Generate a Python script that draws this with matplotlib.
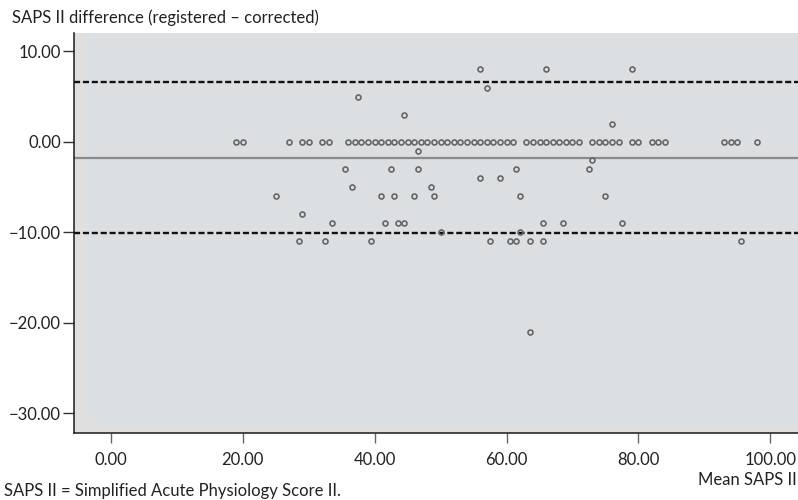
import matplotlib
matplotlib.use("Agg")
import matplotlib.pyplot as plt
from matplotlib.patches import Rectangle

plt.rcParams['font.family'] = ['Lato', 'DejaVu Sans']
plt.rcParams['lines.scale_dashes'] = False

# mean SAPS II of cases with no difference between registered and corrected
zero_mean = [19, 20, 27, 29, 30, 32, 33,
             36, 37, 38, 39, 40, 41, 42, 43, 44, 45, 46, 47, 48, 49, 50,
             51, 52, 53, 54, 55, 56, 57, 58, 59, 60, 61,
             63, 64, 65, 66, 67, 68, 69, 70, 71,
             73, 74, 75, 76, 77, 79, 80, 82, 83, 84, 93, 94, 95, 98]

# cases with a difference
diff_mean = [37.5, 44.5, 56, 66, 57, 79, 76,
             46.5, 73,
             35.5, 42.5, 46.5, 61.5, 72.5,
             56, 59,
             36.5, 48.5,
             25, 41, 43, 46, 49, 62, 75,
             29,
             33.5, 41.5, 43.5, 44.5, 65.5, 68.5, 77.5,
             50, 62,
             28.5, 32.5, 39.5, 57.5, 60.5, 61.5, 63.5, 65.5, 95.5,
             63.5]
diff_value = [5, 3, 8, 8, 6, 8, 2,
              -1, -2,
              -3, -3, -3, -3, -3,
              -4, -4,
              -5, -5,
              -6, -6, -6, -6, -6, -6, -6,
              -8,
              -9, -9, -9, -9, -9, -9, -9,
              -10, -10,
              -11, -11, -11, -11, -11, -11, -11, -11, -11,
              -21]

mean_diff = -1.74
upper_loa = 6.65
lower_loa = -10.12

xticks = [0, 20, 40, 60, 80, 100]
xtick_labels = ["0.00", "20.00", "40.00", "60.00", "80.00", "100.00"]
yticks = [-30, -20, -10, 0, 10]
ytick_labels = ["\u221230.00", "\u221220.00", "\u221210.00", "0.00", "10.00"]

fig = plt.figure(figsize=(7.98, 5.0), dpi=100)
ax = fig.add_axes([0.0927, 0.1334, 0.9073, 0.8])
ax.set_facecolor('#dcdfe2')

# faint lighter strips along the frame, as in the original graphic
ax.add_patch(Rectangle((0, 0), 0.022, 1, transform=ax.transAxes,
                       facecolor='#e0dfe0', edgecolor='none', zorder=0.5))
ax.add_patch(Rectangle((0, 0), 1, 0.025, transform=ax.transAxes,
                       facecolor='#e0dfdf', edgecolor='none', zorder=0.5))

ax.axhline(mean_diff, color='#8a8a8a', lw=1.6, zorder=2)
ax.axhline(upper_loa, color='#111111', lw=1.7, linestyle=(0, (4.4, 2.0)), zorder=2)
ax.axhline(lower_loa, color='#111111', lw=1.7, linestyle=(0, (4.4, 2.0)), zorder=2)

ax.plot(zero_mean, [0] * len(zero_mean), 'o', ms=3.6, mfc='none',
        mec='#666666', mew=1.2, zorder=3)
ax.plot(diff_mean, diff_value, 'o', ms=3.6, mfc='none',
        mec='#666666', mew=1.2, zorder=3)

ax.set_xlim(-5.6, 104.2)
ax.set_ylim(-32.2, 12.0)

ax.set_xticks(xticks)
ax.set_xticklabels(xtick_labels)
ax.set_yticks(yticks)
ax.set_yticklabels(ytick_labels)

for s in ['top', 'right']:
    ax.spines[s].set_visible(False)
for s in ['left', 'bottom']:
    ax.spines[s].set_color('#1a1a1a')
    ax.spines[s].set_linewidth(1.1)

ax.tick_params(axis='x', length=7.5, width=1.0, color='#666666',
               labelsize=12, labelcolor='#222222', pad=6)
ax.tick_params(axis='y', length=8, width=1.0, color='#333333',
               labelsize=12, labelcolor='#222222', pad=1.5)

fig.text(12 / 798, 1 - 18 / 500, "SAPS II difference (registered \u2013 corrected)",
         fontsize=12, color='#222222', ha='left', va='center')
fig.text(797 / 798, 1 - 480 / 500, "Mean SAPS II",
         fontsize=12, color='#222222', ha='right', va='center')
fig.text(4 / 798, 1 - 491 / 500, "SAPS II = Simplified Acute Physiology Score II.",
         fontsize=12, color='#222222', ha='left', va='center')

fig.savefig("out.png", dpi=100)
